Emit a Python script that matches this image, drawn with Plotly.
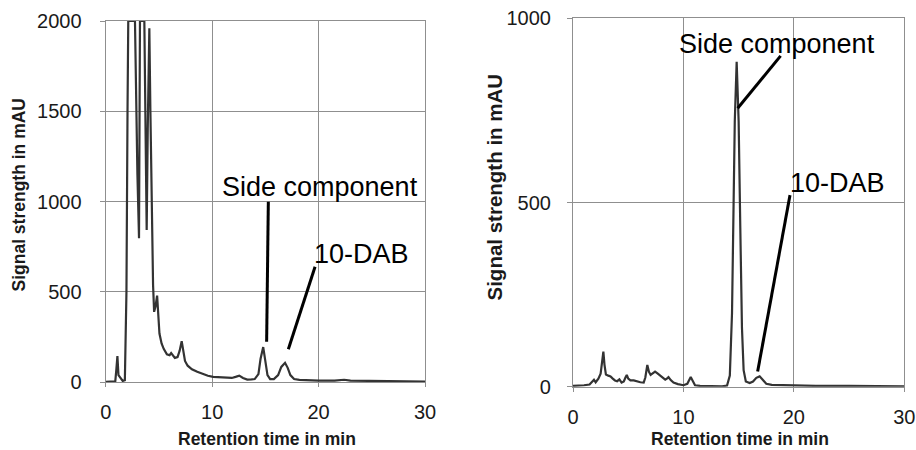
import plotly.graph_objects as go

# Chromatogram A (crude extract): retention time in min, signal in mAU (detector saturates at 2000)
time_a = [0.0, 0.5, 0.9, 1.0, 1.1, 1.2, 1.6, 1.8, 1.95, 2.05, 2.12, 2.75, 2.85, 2.98, 3.13,
          3.18, 3.22, 3.63, 3.7, 3.85, 3.95, 4.1, 4.2, 4.32, 4.45, 4.55, 4.68, 4.83, 4.93,
          5.05, 5.25, 5.45, 5.75, 6.0, 6.15, 6.3, 6.5, 6.75, 6.95, 7.14, 7.3, 7.45, 7.7,
          8.1, 8.6, 9.1, 9.6, 10.1, 10.6, 11.0, 11.5, 11.85, 12.2, 12.55, 12.9, 13.3, 13.7,
          14.0, 14.35, 14.55, 14.8, 15.0, 15.2, 15.45, 15.8, 16.2, 16.5, 16.85, 17.1, 17.35,
          17.7, 18.2, 19.0, 20.0, 21.5, 22.4, 23.0, 24.0, 25.0, 26.0, 27.0, 28.0, 29.0, 30.0]
signal_a = [2, 3, 5, 70, 145, 40, 8, 12, 500, 1500, 2000, 2000, 1600, 1150, 797,
            1300, 2000, 2000, 1500, 843, 1400, 1960, 1500, 900, 540, 390, 420, 480, 380,
            270, 215, 185, 155, 150, 162, 150, 135, 140, 175, 228, 160, 118, 92,
            72, 58, 46, 36, 30, 28, 30, 26, 24, 30, 37, 24, 15, 16,
            18, 45, 130, 195, 120, 40, 18, 18, 40, 85, 108, 80, 40,
            18, 13, 10, 9, 9, 14, 9, 8, 10, 7, 6, 5, 4, 4]

# Chromatogram B (enriched fraction)
time_b = [0.0, 0.5, 1.0, 1.5, 1.75, 1.9, 2.05, 2.3, 2.5, 2.65, 2.75, 2.85, 2.98, 3.2, 3.4,
          3.6, 3.8, 4.0, 4.2, 4.4, 4.6, 4.75, 4.87, 5.0, 5.2, 5.5, 5.8, 6.1, 6.4, 6.55,
          6.73, 6.88, 7.03, 7.2, 7.43, 7.65, 7.9, 8.15, 8.35, 8.5, 8.65, 8.85, 9.1, 9.5,
          10.0, 10.35, 10.55, 10.66, 10.8, 11.05, 11.5, 12.5, 13.5, 13.95, 14.2, 14.4,
          14.5, 14.65, 14.82, 15.0, 15.15, 15.3, 15.45, 15.65, 16.0, 16.3, 16.6, 16.9,
          17.2, 17.5, 18.0, 19.0, 20.0, 22.0, 25.0, 28.0, 30.0]
signal_b = [2, 2, 4, 6, 14, 19, 12, 22, 35, 65, 95, 60, 33, 30, 28,
            22, 17, 15, 20, 11, 14, 25, 32, 22, 17, 17, 14, 12, 11, 25,
            59, 40, 32, 36, 41, 36, 30, 24, 19, 22, 26, 18, 11, 7,
            4, 8, 22, 26, 18, 4, 2, 1, 1, 3, 30, 200,
            420, 720, 882, 720, 430, 160, 45, 14, 10, 14, 24, 28,
            18, 8, 5, 4, 3, 2, 2, 1, 1]

x_ticks = [0, 10, 20, 30]
y_ticks_a = [0, 500, 1000, 1500, 2000]
y_ticks_b = [0, 500, 1000]

# Peak labels: (text, text x, text y, line start x, line start y, line end x, line end y)
labels_a = [("Side component", 20.1, 1080, 15.28, 1000, 15.12, 225),
            ("10-DAB", 24.0, 712, 19.67, 640, 17.16, 183)]
labels_b = [("Side component", 18.49, 930, 18.8, 898, 14.91, 756),
            ("10-DAB", 23.92, 554, 19.65, 520, 16.72, 41)]

W, H = 916, 450
FONT = "Liberation Sans, Arial, sans-serif"
GRID = "#8f8f8f"
TRACE = "#333333"

fig = go.Figure()
fig.add_trace(go.Scatter(x=time_a, y=signal_a, mode="lines", xaxis="x", yaxis="y",
                         line=dict(color=TRACE, width=2.2), showlegend=False))
fig.add_trace(go.Scatter(x=time_b, y=signal_b, mode="lines", xaxis="x2", yaxis="y2",
                         line=dict(color=TRACE, width=2.2), showlegend=False))


def xax(domain, anchor):
    return dict(domain=domain, anchor=anchor, range=[0, 30], tickvals=x_ticks,
                automargin=False,
                showgrid=True, gridcolor=GRID, gridwidth=1.2, zeroline=False,
                showline=True, linecolor=GRID, linewidth=1.2, mirror=True,
                ticks="outside", ticklen=4, tickcolor=GRID, ticklabelstandoff=8,
                tickfont=dict(family=FONT, size=20, color="#1a1a1a"))


def yax(domain, anchor, rng, vals, standoff):
    return dict(domain=domain, anchor=anchor, range=rng, tickvals=vals,
                automargin=False,
                showgrid=True, gridcolor=GRID, gridwidth=1.2, zeroline=False,
                showline=True, linecolor=GRID, linewidth=1.2, mirror=True,
                ticks="outside", ticklen=5, tickcolor=GRID, ticklabelstandoff=standoff,
                tickfont=dict(family=FONT, size=20, color="#1a1a1a"))


annotations = []
for labels, xr, yr in ((labels_a, "x", "y"), (labels_b, "x2", "y2")):
    for text, tx, ty, x0, y0, x1, y1 in labels:
        annotations.append(dict(text=text, x=tx, y=ty, xref=xr, yref=yr, showarrow=False,
                                xanchor="center", yanchor="middle",
                                font=dict(family=FONT, size=27, color="black")))
        fig.add_shape(type="line", x0=x0, y0=y0, x1=x1, y1=y1, xref=xr, yref=yr,
                      line=dict(color="black", width=3))

# Axis titles
for text, px, py, size, angle in (("Signal strength in mAU", 18.5, 195, 17.5, -90),
                                  ("Signal strength in mAU", 493.5, 187, 20.5, -90),
                                  ("Retention time in min", 266.7, 439, 17.5, 0),
                                  ("Retention time in min", 740, 439, 17.5, 0)):
    annotations.append(dict(text=f"<b>{text}</b>", x=px / W, y=1 - py / H, xref="paper",
                            yref="paper", showarrow=False, textangle=angle,
                            xanchor="center", yanchor="middle",
                            font=dict(family=FONT, size=size, color="#1a1a1a")))

fig.update_layout(
    width=W, height=H, margin=dict(l=0, r=0, t=0, b=0, autoexpand=False),
    paper_bgcolor="white", plot_bgcolor="white",
    xaxis=xax([105.7 / W, 425 / W], "y"),
    yaxis=yax([1 - 382.3 / H, 1 - 21 / H], "x", [0, 2000], y_ticks_a, 14),
    xaxis2=xax([573 / W, 904.3 / W], "y2"),
    yaxis2=yax([1 - 386.7 / H, 1 - 18.3 / H], "x2", [0, 1000], y_ticks_b, 12),
    annotations=annotations,
)

fig.write_html("out.html")
